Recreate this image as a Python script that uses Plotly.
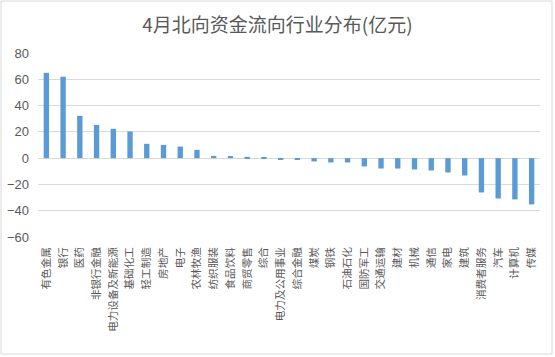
import plotly.graph_objects as go

categories = ["有色金属", "银行", "医药", "非银行金融", "电力设备及新能源", "基础化工", "轻工制造",
              "房地产", "电子", "农林牧渔", "纺织服装", "食品饮料", "商贸零售", "综合",
              "电力及公用事业", "综合金融", "煤炭", "钢铁", "石油石化", "国防军工", "交通运输",
              "建材", "机械", "通信", "家电", "建筑", "消费者服务", "汽车", "计算机", "传媒"]
values = [64.9, 62.0, 32.2, 25.3, 22.3, 20.3, 10.9, 10.1, 8.8, 6.3, 1.7, 1.6, 1.0, 0.9,
          -1.0, -1.0, -2.5, -3.3, -3.3, -6.3, -7.9, -7.9, -8.6, -9.4, -10.9, -13.2,
          -26.1, -30.7, -31.4, -35.2]
y_ticks = [-60, -40, -20, 0, 20, 40, 60, 80]

FONT = "Noto Sans CJK SC"
fig = go.Figure(go.Bar(x=categories, y=values, marker_color="#5b9bd5", marker_line_width=0))

fig.update_layout(
    width=555, height=357,
    margin=dict(l=38, r=15, t=53, b=120),
    paper_bgcolor="white", plot_bgcolor="white",
    bargap=0.68,
    showlegend=False,
    font=dict(family=FONT, color="#595959"),
    title=dict(text="4月北向资金流向行业分布(亿元)", x=0.5, xanchor="center", y=0.93, yanchor="middle",
               font=dict(size=19, color="#595959", family=FONT)),
)
fig.update_yaxes(range=[-60, 80], tickvals=y_ticks, showgrid=True, gridcolor="#d9d9d9", gridwidth=1,
                 zeroline=True, zerolinecolor="#d9d9d9", zerolinewidth=1, showline=False,
                 tickfont=dict(size=13, color="#595959", family="Liberation Sans"), ticks="",
                 ticklabelstandoff=8, automargin=False)
fig.update_xaxes(tickangle=-90, tickfont=dict(size=10.6, color="#595959"), showline=False, ticks="",
                 showgrid=False, ticklabelstandoff=7, automargin=False)

# chart-area border
fig.add_shape(type="rect", xref="paper", yref="paper",
              x0=-37 / 502, x1=(552 - 38) / 502, y0=-(354 - 237) / 184, y1=(237 - 1) / 184,
              line=dict(color="#d9d9d9", width=1), fillcolor="rgba(0,0,0,0)")

fig.write_html("out.html", config={"displayModeBar": False},
               post_script="document.body.style.margin='0';")
